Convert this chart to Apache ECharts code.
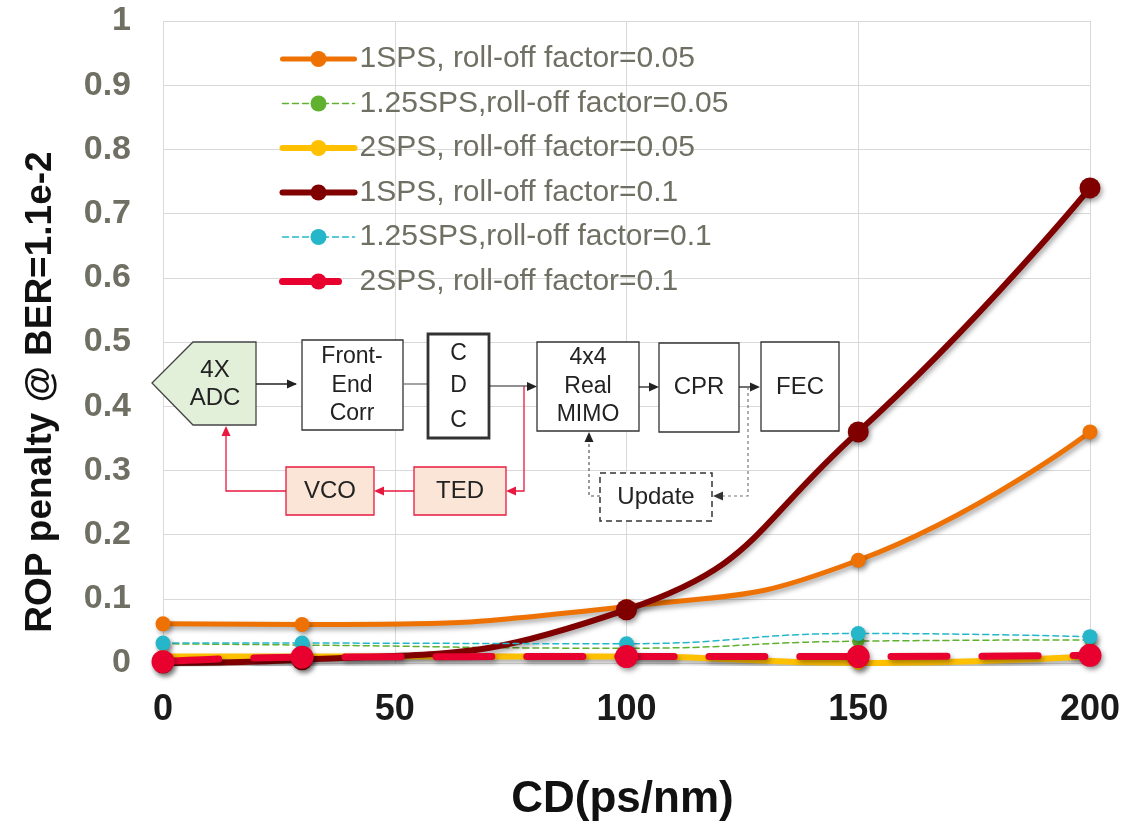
<!DOCTYPE html>
<html>
<head>
<meta charset="utf-8">
<script src="https://cdn.jsdelivr.net/npm/echarts@6/dist/echarts.min.js"></script>
<style>
html,body{margin:0;padding:0;background:#fff;}
#chart{width:1123px;height:824px;}
</style>
</head>
<body>
<div id="chart"></div>
<script>
// ---- data ----
const cdValues = [0, 30, 100, 150, 200];
const seriesNames = [
  '1SPS, roll-off factor=0.05',
  '1.25SPS,roll-off factor=0.05',
  '2SPS, roll-off factor=0.05',
  '1SPS, roll-off factor=0.1',
  '1.25SPS,roll-off factor=0.1',
  '2SPS, roll-off factor=0.1'
];
const sps1_r005   = [0.061, 0.06, 0.088, 0.16, 0.36];
const sps125_r005 = [0.03, 0.028, 0.023, 0.034, 0.036];
const sps2_r005   = [0.01, 0.01, 0.01, 0.0, 0.01];
const sps1_r01    = [0.0, 0.005, 0.083, 0.36, 0.74];
const sps125_r01  = [0.031, 0.031, 0.03, 0.046, 0.041];
const sps2_r01    = [0.002, 0.009, 0.01, 0.01, 0.012];
const yTicks = [0, 0.1, 0.2, 0.3, 0.4, 0.5, 0.6, 0.7, 0.8, 0.9, 1];
const xTicks = [0, 50, 100, 150, 200];
const xAxisTitle = 'CD(ps/nm)';
const yAxisTitle = 'ROP penalty @ BER=1.1e-2';

const seriesValues = [sps1_r005, sps125_r005, sps2_r005, sps1_r01, sps125_r01, sps2_r01];

const styles = [
  {color:'#EE7203', width:5, type:'solid', size:15},
  {color:'#5FB12F', width:1.5, type:[6,4], size:12},
  {color:'#FFC000', width:6, type:'solid', size:14},
  {color:'#800000', width:6, type:'solid', size:21},
  {color:'#25B7C9', width:1.5, type:[6,4], size:15},
  {color:'#E8002F', width:7, type:[56,35], size:23}
];

const shadow = {shadowColor:'rgba(0,0,0,0.35)', shadowBlur:5, shadowOffsetX:2, shadowOffsetY:3};

const series = seriesValues.map((vals, i) => {
  const st = styles[i];
  return {
    name: seriesNames[i],
    type: 'line',
    smooth: true,
    data: cdValues.map((x, j) => [x, vals[j]]),
    symbol: 'circle',
    symbolSize: st.size,
    z: 2 + i,
    lineStyle: Object.assign({color: st.color, width: st.width, type: st.type, cap: 'round'}, (st.width > 2 ? shadow : {})),
    itemStyle: Object.assign({color: st.color, borderWidth: 0}, shadow),
    emphasis: {disabled: true}
  };
});

// ---- inset block diagram (annotation) ----
const TXT = '#222';
const FONT = '"Liberation Sans", Arial, sans-serif';
const RED = '#E8193F';
const g = [];
function rect(x, y, w, h, opt) {
  opt = opt || {};
  g.push({type:'rect', z:1, shape:{x:x, y:y, width:w, height:h},
    style:{fill: opt.fill || '#fff', stroke: opt.stroke || '#333', lineWidth: opt.lw || 1.3, lineDash: opt.dash || null}});
}
function text(cx, cy, s, size) {
  g.push({type:'text', z:3, x:cx, y:cy, style:{text:s, fill:TXT, font: (size||23) + 'px ' + FONT, align:'center', verticalAlign:'middle'}});
}
function line(points, color, lw, dash) {
  g.push({type:'polyline', z:1, shape:{points:points}, style:{stroke:color, lineWidth:lw||1.3, lineDash:dash||null, fill:null}});
}
function arrow(tipX, tipY, dir, color) {
  const L = 10, W = 4.5;
  let pts;
  if (dir === 'right') pts = [[tipX, tipY], [tipX - L, tipY - W], [tipX - L, tipY + W]];
  if (dir === 'left') pts = [[tipX, tipY], [tipX + L, tipY - W], [tipX + L, tipY + W]];
  if (dir === 'up') pts = [[tipX, tipY], [tipX - W, tipY + L], [tipX + W, tipY + L]];
  g.push({type:'polygon', z:2, shape:{points:pts}, style:{fill:color}});
}

// ADC pentagon
g.push({type:'polygon', z:1, shape:{points:[[152,383],[193,342],[256,342],[256,425],[193,425]]},
  style:{fill:'#E2F0D9', stroke:'#444', lineWidth:1.3}});
text(215, 370, '4X', 24); text(215, 398, 'ADC', 24);
// ADC -> Front-End
line([[256,384],[296,384]], '#222', 1.5); arrow(297, 384, 'right', '#222');
// Front-End Corr
rect(302, 340, 101, 90);
text(352, 357, 'Front-'); text(352, 386, 'End'); text(352, 414, 'Corr');
line([[403,384],[428,384]], '#666', 1.2);
// CDC
rect(428, 334, 61, 104, {lw:2.8});
text(458.5, 354, 'C'); text(458.5, 386, 'D'); text(458.5, 421, 'C');
line([[489,386],[530,386]], '#222', 1.2); arrow(537, 386.5, 'right', '#222');
// MIMO
rect(537, 342, 102, 89);
text(588, 358, '4x4'); text(588, 387, 'Real'); text(588, 415, 'MIMO');
line([[639,387],[652,387]], '#222', 1.3); arrow(659, 387, 'right', '#222');
// CPR
rect(659, 343, 80, 89);
text(699, 387, 'CPR', 24);
line([[739,387],[753,387]], '#222', 1.3); arrow(760, 387, 'right', '#222');
// FEC
rect(761, 342, 78, 89);
text(800, 387, 'FEC', 24);
// red loop: CDC/MIMO -> TED -> VCO -> ADC
line([[524,386],[524,491],[512,491]], RED, 1.3); arrow(506, 491, 'left', RED);
rect(414, 467, 92, 48, {fill:'#FBE5D6', stroke:RED, lw:1.3});
text(460, 491, 'TED', 24);
line([[414,491],[380,491]], RED, 1.3); arrow(374, 491, 'left', RED);
rect(286, 467, 88, 48, {fill:'#FBE5D6', stroke:RED, lw:1.3});
text(330, 491, 'VCO', 24);
line([[286,491],[226,491],[226,433]], RED, 1.3); arrow(226, 426, 'up', RED);
// Update loop (dashed)
line([[748,387],[748,496],[720,496]], '#777', 1.2, [3,3]); arrow(713, 496, 'left', '#333');
rect(600, 473, 112, 48, {lw:1.5, dash:[6,4], stroke:'#333'});
text(656, 497, 'Update', 24);
line([[600,496],[589,496],[589,440]], '#555', 1.2, [3,3]); arrow(589, 432, 'up', '#222');

const chart = echarts.init(document.getElementById('chart'), null, {renderer:'canvas'});
chart.setOption({
  animation: false,
  backgroundColor: '#fff',
  textStyle: {fontFamily: FONT},
  grid: {left:163, right:33, top:21, bottom:161, containLabel:false, outerBoundsMode:'none'},
  legend: {
    orient: 'vertical',
    left: 279, top: 44, padding: 0,
    itemWidth: 72, itemHeight: 20, itemGap: 14.5,
    data: seriesNames,
    lineStyle: {width: 'inherit'},
    textStyle: {fontSize: 30, lineHeight: 29.5, color: '#6F6F63', fontFamily: FONT},
    selectedMode: false
  },
  xAxis: {
    type: 'value', min: xTicks[0], max: xTicks[xTicks.length-1], interval: xTicks[1] - xTicks[0],
    name: xAxisTitle, nameLocation: 'middle', nameGap: 115,
    nameTextStyle: {fontSize: 44, fontWeight: 'bold', color: '#111', fontFamily: FONT, padding: [0, 8, 0, 0]},
    axisLine: {show: true, lineStyle: {color: '#D9D9D9', width: 1}},
    axisTick: {show: false},
    axisLabel: {fontSize: 36, fontWeight: 'bold', color: '#1A1A1A', margin: 29, fontFamily: FONT},
    splitLine: {show: true, lineStyle: {color: '#D9D9D9', width: 1}}
  },
  yAxis: {
    type: 'value', min: yTicks[0], max: yTicks[yTicks.length-1], interval: 0.1,
    name: yAxisTitle, nameLocation: 'middle', nameGap: 104,
    nameTextStyle: {fontSize: 37, fontWeight: 'bold', color: '#111', fontFamily: FONT, padding: [0, 100, 0, 0]},
    axisLine: {show: false},
    axisTick: {show: false},
    axisLabel: {fontSize: 34, fontWeight: 'bold', color: '#6F6F63', margin: 32, fontFamily: FONT},
    splitLine: {show: true, lineStyle: {color: '#D9D9D9', width: 1}}
  },
  graphic: g,
  series: series
});
</script>
</body>
</html>
